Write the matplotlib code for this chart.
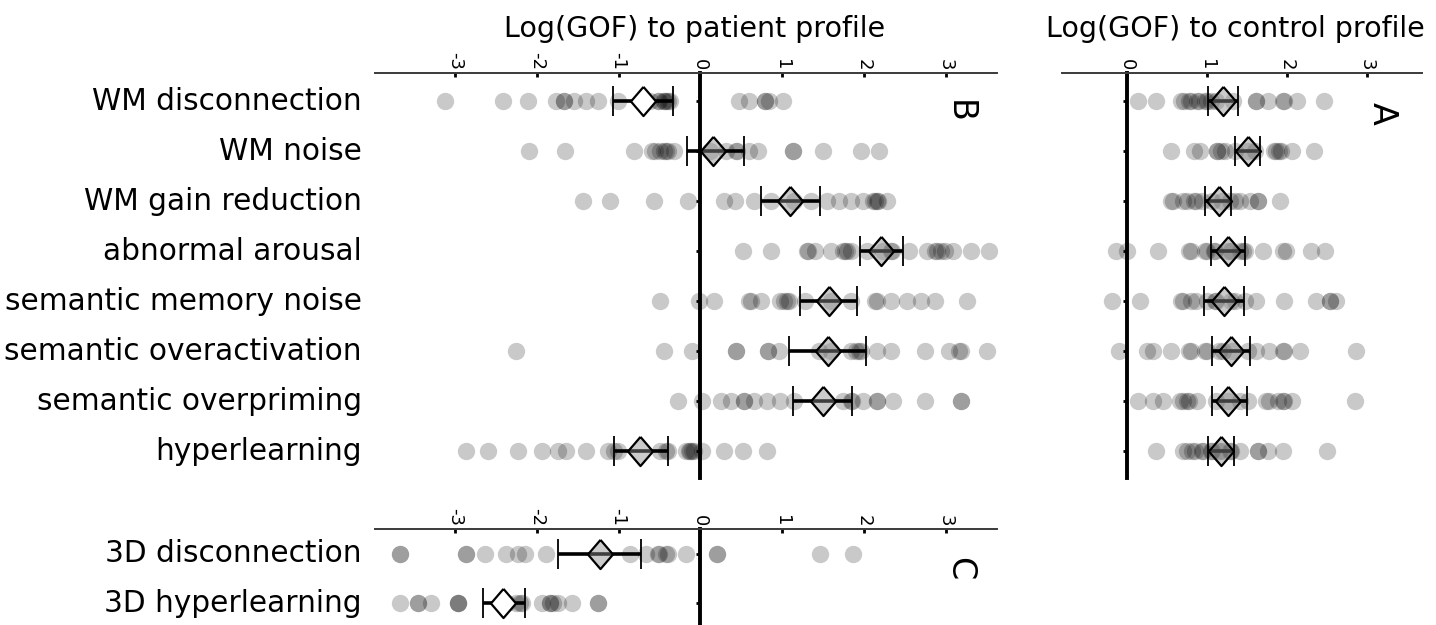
"""Log(GOF) of model variants to patient and control profiles
"""
import matplotlib as mpl
import matplotlib.pyplot as plt
import matplotlib.transforms as mtransforms

mpl.rcParams['font.family'] = 'DejaVu Sans'
mpl.rcParams['axes.unicode_minus'] = False

# rows of panels A and B
models = ['WM disconnection', 'WM noise', 'WM gain reduction', 'abnormal arousal',
          'semantic memory noise', 'semantic overactivation', 'semantic overpriming',
          'hyperlearning']
# rows of panel C
models_3d = ['3D disconnection', '3D hyperlearning']

# one value per simulated run (overlapping runs show up darker)
patient_points = [
    [-3.12, -2.41, -2.11, -1.77, -1.67, -1.67, -1.55, -1.40, -1.25, -1.01, -0.61, -0.52,
     -0.50, -0.45, -0.44, -0.42, -0.40, -0.37, 0.47, 0.59, 0.79, 0.79, 0.84, 1.01],
    [-2.09, -1.65, -0.81, -0.59, -0.55, -0.49, -0.45, -0.42, -0.39, -0.32, 0.12, 0.32,
     0.44, 0.45, 0.59, 0.71, 1.13, 1.13, 1.50, 1.97, 2.19],
    [-1.43, -1.11, -0.57, -0.15, 0.29, 0.42, 0.66, 0.86, 1.15, 1.35, 1.55, 1.70, 1.84, 1.99,
     2.11, 2.14, 2.16, 2.18, 2.29],
    [0.52, 0.86, 1.30, 1.32, 1.40, 1.60, 1.75, 1.77, 1.80, 1.84, 2.04, 2.23, 2.33, 2.35,
     2.55, 2.77, 2.87, 2.90, 2.95, 2.99, 3.09, 3.31, 3.53],
    [-0.49, -0.02, 0.17, 0.59, 0.62, 0.74, 0.98, 1.02, 1.06, 1.08, 1.28, 1.60, 1.84, 2.14,
     2.16, 2.33, 2.53, 2.70, 2.87, 3.26],
    [-2.26, -0.44, -0.10, 0.44, 0.44, 0.83, 0.83, 0.96, 1.45, 1.60, 1.84, 1.90, 1.94, 1.96,
     2.16, 2.33, 2.75, 3.04, 3.17, 3.19, 3.51],
    [-0.27, 0.02, 0.25, 0.37, 0.54, 0.54, 0.66, 0.81, 0.98, 1.15, 1.74, 1.84, 1.86, 1.99,
     2.16, 2.16, 2.36, 2.75, 3.19, 3.19],
    [-2.87, -2.60, -2.23, -1.94, -1.74, -1.64, -1.40, -1.13, -1.06, -1.01, -0.49, -0.42,
     -0.39, -0.17, -0.14, -0.12, -0.10, -0.08, 0.02, 0.29, 0.52, 0.81],
]
patient_mean = [-0.70, 0.16, 1.10, 2.21, 1.57, 1.56, 1.50, -0.74]
patient_lo = [-1.07, -0.16, 0.74, 1.95, 1.22, 1.09, 1.14, -1.06]
patient_hi = [-0.34, 0.53, 1.47, 2.48, 1.92, 2.03, 1.86, -0.40]

control_points = [
    [0.14, 0.37, 0.68, 0.72, 0.78, 0.80, 0.88, 0.90, 0.98, 1.00, 1.05, 1.11, 1.33, 1.62,
     1.62, 1.76, 1.95, 1.97, 2.13, 2.46],
    [0.55, 0.84, 0.92, 1.13, 1.13, 1.18, 1.23, 1.35, 1.52, 1.60, 1.84, 1.86, 1.90, 1.93,
     2.07, 2.34],
    [0.55, 0.58, 0.70, 0.75, 0.84, 0.86, 0.94, 1.07, 1.19, 1.29, 1.35, 1.41, 1.54, 1.64,
     1.64, 1.91],
    [-0.14, 0.00, 0.39, 0.78, 0.80, 0.98, 1.00, 1.09, 1.10, 1.27, 1.30, 1.41, 1.45, 1.48,
     1.70, 1.95, 1.99, 2.30, 2.48],
    [-0.18, 0.16, 0.68, 0.70, 0.80, 0.86, 1.00, 1.10, 1.11, 1.30, 1.35, 1.48, 1.62, 1.97,
     2.36, 2.54, 2.54, 2.62],
    [-0.10, 0.25, 0.33, 0.55, 0.78, 0.80, 0.98, 1.00, 1.15, 1.20, 1.31, 1.52, 1.62, 1.78,
     1.95, 1.97, 2.17, 2.87],
    [0.14, 0.33, 0.45, 0.66, 0.70, 0.75, 0.78, 0.88, 1.11, 1.27, 1.41, 1.52, 1.74, 1.78,
     1.89, 1.95, 1.97, 2.07, 2.85],
    [0.36, 0.70, 0.75, 0.82, 0.85, 0.94, 0.95, 1.05, 1.07, 1.15, 1.19, 1.29, 1.30, 1.41,
     1.64, 1.64, 1.76, 1.95, 2.50],
]
control_mean = [1.20, 1.51, 1.15, 1.27, 1.21, 1.30, 1.27, 1.18]
control_lo = [1.02, 1.35, 0.98, 1.05, 0.96, 1.07, 1.07, 1.02]
control_hi = [1.39, 1.67, 1.30, 1.48, 1.47, 1.54, 1.50, 1.34]

points_3d = [
    [-3.68, -3.68, -2.87, -2.87, -2.63, -2.38, -2.23, -2.14, -1.89, -0.86, -0.66, -0.52,
     -0.50, -0.42, -0.39, -0.17, 0.20, 0.20, 1.47, 1.87],
    [-3.68, -3.46, -3.46, -3.29, -2.97, -2.97, -2.97, -2.36, -2.26, -2.20, -2.18, -1.94,
     -1.84, -1.84, -1.80, -1.74, -1.57, -1.25, -1.25],
]
mean_3d = [-1.23, -2.41]
lo_3d = [-1.74, -2.66]
hi_3d = [-0.72, -2.14]

W, H = 1436., 625.
# slightly tall diamond
DIAMOND = [(0, 1), (0.86, 0), (0, -1), (-0.86, 0), (0, 1)]


def axes_px(fig, left, top, right, bottom):
    return fig.add_axes([left / W, 1 - bottom / H, (right - left) / W, (bottom - top) / H])


def draw_panel(ax, labels, points, mean, lo, hi, xticks, xlim, ylim, letter, letter_pos,
               white_rows=(), show_labels=True):
    for i, vals in enumerate(points):
        ax.plot(vals, [i] * len(vals), 'o', color='k', alpha=0.21, markersize=12.5,
                markeredgewidth=0, zorder=2)
    for i in range(len(mean)):
        ax.errorbar(mean[i], i, xerr=[[mean[i] - lo[i]], [hi[i] - mean[i]]], fmt='none',
                    ecolor='k', elinewidth=2.6, capsize=10.5, capthick=1.3, zorder=3)
        face = 'white' if i in white_rows else (0.55, 0.55, 0.55, 0.45)
        ax.plot(mean[i], i, marker=DIAMOND, markersize=21, markerfacecolor=face,
                markeredgecolor='k', markeredgewidth=1.6, linestyle='none', zorder=4)
    ax.set_xlim(xlim)
    ax.set_ylim(ylim)
    ax.set_xticks(xticks)
    ax.set_yticks(range(len(mean)))
    ax.set_yticklabels([])
    ax.xaxis.tick_top()
    ax.tick_params(axis='x', direction='in', length=3, width=2, labelsize=13,
                   labelrotation=270, pad=2, colors='k')
    ax.tick_params(axis='y', direction='out', length=3, width=2)
    ax.spines['left'].set_position(('data', 0))
    ax.spines['left'].set_linewidth(2.8)
    ax.spines['top'].set_linewidth(1.4)
    ax.spines['top'].set_color('#3a3a3a')
    ax.spines['right'].set_visible(False)
    ax.spines['bottom'].set_visible(False)
    ax.patch.set_alpha(0)
    if show_labels:
        trans = mtransforms.blended_transform_factory(ax.transAxes, ax.transData)
        for i, lab in enumerate(labels):
            ax.text(-0.021, i, lab, transform=trans, ha='right', va='center', fontsize=21.3)
    ax.text(letter_pos[0], letter_pos[1], letter, transform=ax.transAxes, rotation=270,
            ha='center', va='center', fontsize=24)


def main():
    fig = plt.figure(figsize=(W / 100, H / 100), dpi=100)

    ax_b = axes_px(fig, 375, 73, 997, 478)
    draw_panel(ax_b, models, patient_points, patient_mean, patient_lo, patient_hi,
               range(-3, 4), (-3.98, 3.63), (7.54, -0.56), 'B', (0.94, 0.904),
               white_rows=(0,))

    ax_a = axes_px(fig, 1062, 73, 1422, 478)
    draw_panel(ax_a, models, control_points, control_mean, control_lo, control_hi,
               range(0, 4), (-0.81, 3.69), (7.54, -0.56), 'A', (0.889, 0.901),
               show_labels=False)

    ax_c = axes_px(fig, 375, 529, 997, 625)
    draw_panel(ax_c, models_3d, points_3d, mean_3d, lo_3d, hi_3d,
               range(-3, 4), (-3.98, 3.63), (1.44, -0.5), 'C', (0.94, 0.59),
               white_rows=(1,))

    fig.text(695 / W, 1 - 29 / H, 'Log(GOF) to patient profile', ha='center', va='center',
             fontsize=20.5)
    fig.text(1235 / W, 1 - 29 / H, 'Log(GOF) to control profile', ha='center', va='center',
             fontsize=20.5)

    plt.savefig('out.png', dpi=100)
    plt.close()


if __name__ == '__main__':
    main()
